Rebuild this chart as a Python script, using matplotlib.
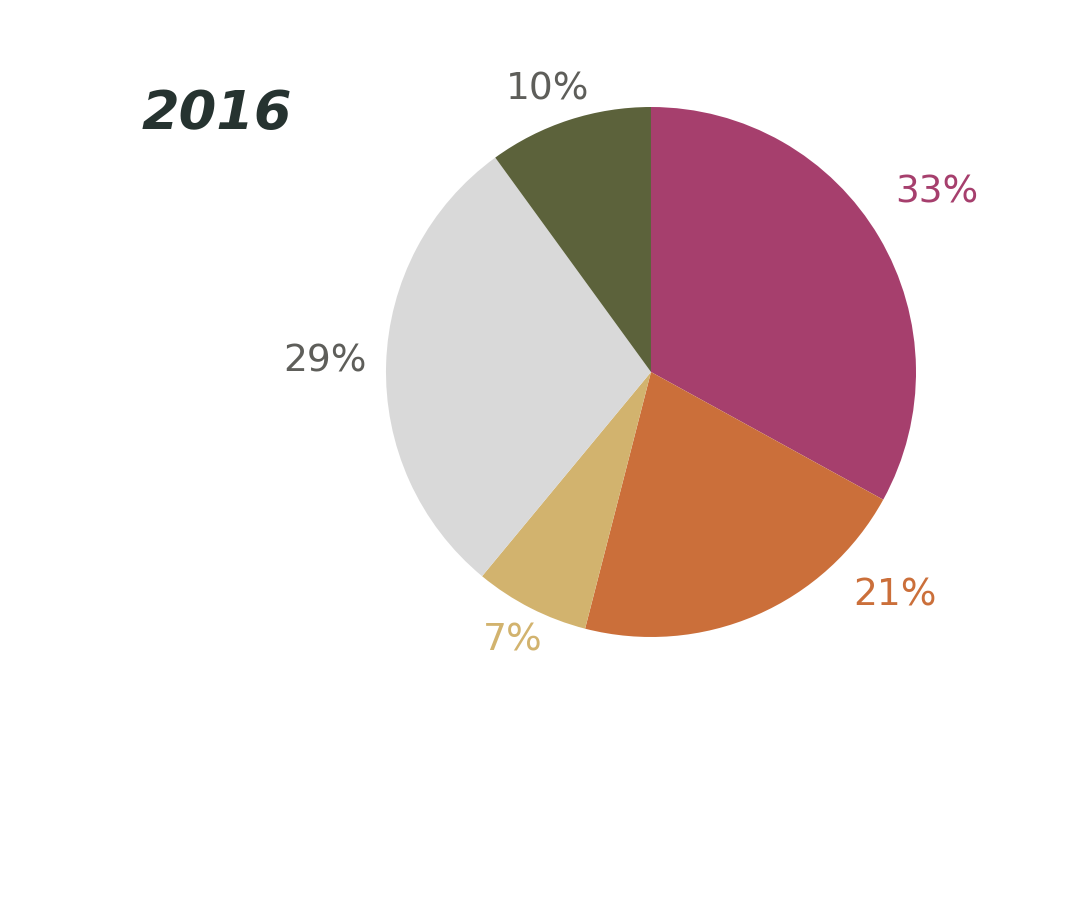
import matplotlib
matplotlib.use("Agg")
import matplotlib.pyplot as plt

title = "2016"
values = [33, 21, 7, 29, 10]
labels = ["33%", "21%", "7%", "29%", "10%"]
colors = ["#A63F6D", "#CB6F3A", "#D2B36E", "#D9D9D9", "#5C623B"]
label_colors = ["#A63F6D", "#CB6F3A", "#D2B36E", "#5E5E5A", "#5E5E5A"]
# label positions in units of pie radius (relative to centre)
label_pos = [(1.079, 0.677), (0.921, -0.842), (-0.521, -1.015), (-1.230, 0.040), (-0.389, 1.066)]

W, H = 1080, 918
fig = plt.figure(figsize=(W / 100, H / 100), dpi=100)
fig.patch.set_facecolor("white")

cx, cy, r = 651, 372, 265
ax = fig.add_axes([(cx - r) / W, (H - (cy + r)) / H, 2 * r / W, 2 * r / H])
ax.pie(values, colors=colors, startangle=90, counterclock=False, radius=1,
       wedgeprops=dict(linewidth=0))
ax.set_xlim(-1, 1)
ax.set_ylim(-1, 1)
ax.set_aspect("equal")
ax.axis("off")

for lab, col, (lx, ly) in zip(labels, label_colors, label_pos):
    ax.text(lx, ly, lab, color=col, fontsize=27, ha="center", va="center",
            family="DejaVu Sans", clip_on=False)

fig.text(217 / W, 1 - 114 / H, title, color="#263330", fontsize=39,
         fontweight="bold", fontstyle="italic", ha="center", va="center",
         family="DejaVu Sans")

fig.savefig("out.png", dpi=100, facecolor="white")
